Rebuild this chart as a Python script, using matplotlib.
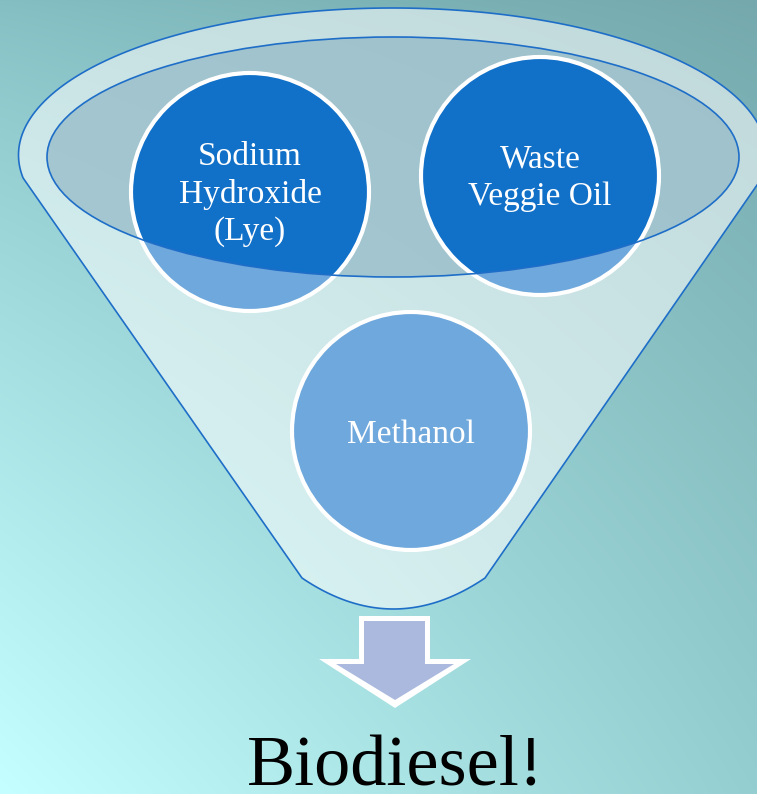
import numpy as np
import matplotlib
matplotlib.use("Agg")
import matplotlib.pyplot as plt
from matplotlib.patches import Ellipse, Circle, Polygon

# ---- content ----
inputs = ["Sodium\nHydroxide\n(Lye)", "Waste\nVeggie Oil", "Methanol"]
result = "Biodiesel!"

# ---- layout (pixel coordinates, y downwards) ----
W, H = 757, 794
circle_centers = [(250, 192), (540, 176), (411, 431)]
circle_r = 119

fig = plt.figure(figsize=(W / 100, H / 100), dpi=100)
ax = fig.add_axes([0, 0, 1, 1])
ax.set_xlim(0, W)
ax.set_ylim(H, 0)
ax.axis("off")

# background gradient (bilinear between corner colours, brightest bottom-left)
yy, xx = np.mgrid[0:H, 0:W]
u = (xx / (W - 1))[..., None]
v = (yy / (H - 1))[..., None]
tl = np.array([132, 190, 194]) / 255
tr = np.array([116, 168, 172]) / 255
bl = np.array([197, 255, 255]) / 255
br = np.array([148, 206, 208]) / 255
v2 = v ** 0.8
bg = (tl * (1 - u) * (1 - v2) + tr * u * (1 - v2) + bl * (1 - u) * v2 + br * u * v2)
bg = np.clip(bg, 0, 1)
ax.imshow(bg, extent=(0, W, H, 0), zorder=0, aspect="auto")

edge_blue = "#1e6ec8"

# funnel body outline
cx, cy, a, b = 392.5, 155, 374, 147
t0 = np.arcsin(-(178 - cy) / b)
ts = np.linspace(np.pi - t0, t0, 200)
arc = np.column_stack([cx + a * np.cos(ts), cy - b * np.sin(ts)])
p0 = np.array([485, 578]); pc = np.array([393.5, 640]); p1 = np.array([302, 578])
s = np.linspace(0, 1, 60)[:, None]
bottom = (1 - s) ** 2 * p0 + 2 * (1 - s) * s * pc + s ** 2 * p1
body = np.vstack([arc, bottom])
ax.add_patch(Polygon(body, closed=True, facecolor=(1, 1, 1, 0.55),
                     edgecolor=edge_blue, lw=1.2, zorder=1))

# inner ellipse (top opening)
ell_c, ell_w, ell_h = (393, 157), 692, 240
ax.add_patch(Ellipse(ell_c, ell_w, ell_h, facecolor=(140/255, 180/255, 195/255, 0.65),
                     edgecolor="none", zorder=2))
clip_ell = Ellipse(ell_c, ell_w, ell_h, facecolor="none", edgecolor="none", zorder=2)
ax.add_patch(clip_ell)

light_blue = "#6fa8dc"
dark_blue = "#1170c8"
for i, (x, y) in enumerate(circle_centers):
    ax.add_patch(Circle((x, y), circle_r, facecolor=light_blue, edgecolor="none", zorder=3))
    if i < 2:
        c = Circle((x, y), circle_r, facecolor=dark_blue, edgecolor="none", zorder=4)
        ax.add_patch(c)
        c.set_clip_path(clip_ell)
    ax.add_patch(Circle((x, y), circle_r, facecolor="none", edgecolor="white", lw=3, zorder=5))

ax.add_patch(Ellipse(ell_c, ell_w, ell_h, facecolor="none", edgecolor=edge_blue,
                     lw=1.2, zorder=6))

# labels
baselines = [[165, 203, 240], [167, 205], [443]]
for lab, (x, y), bl_ in zip(inputs, circle_centers, baselines):
    for line, by in zip(lab.split("\n"), bl_):
        ax.text(x, by, line, ha="center", va="baseline", color="white",
                fontsize=24, family="Liberation Serif", zorder=7)

# arrow
outer = [(359, 616), (430, 616), (430, 659), (471, 659), (395, 708), (319, 659), (359, 659)]
inner = [(364, 621), (425, 621), (425, 664), (454, 664), (395, 700), (336, 664), (364, 664)]
ax.add_patch(Polygon(outer, closed=True, facecolor="white", edgecolor="none", zorder=3))
ax.add_patch(Polygon(inner, closed=True, facecolor="#aab9dd", edgecolor="none", zorder=4))

ax.text(395, 786, result, ha="center", va="baseline", color="black",
        fontsize=52, family="Liberation Serif", zorder=7)

fig.savefig("out.png", dpi=100)
